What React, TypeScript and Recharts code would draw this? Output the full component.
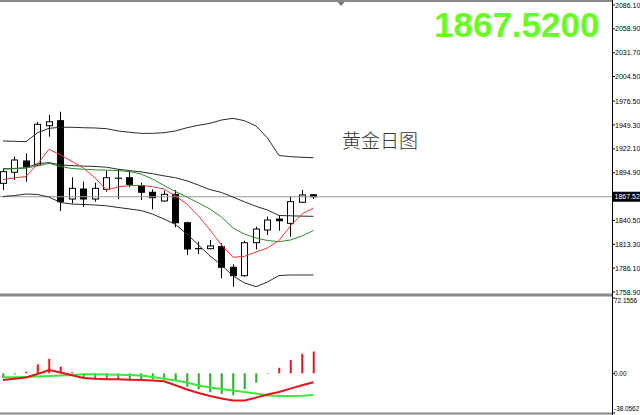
import { ComposedChart, Bar, Line, XAxis, YAxis, ReferenceLine, Cell } from "recharts";

// daily gold candles
const opens = [1882.8, 1895.4, 1908.3, 1903.7, 1948.5, 1954.2, 1864.9, 1876.3, 1864.9, 1876.0, 1888.0, 1889.2, 1880.1, 1872.6, 1862.7, 1870.3, 1837.9, 1808.3, 1808.3, 1810.6, 1787.1, 1777.5, 1815.1, 1829.6, 1842.1, 1837.2, 1861.2, 1869.8];
const highs = [1900.3, 1913.2, 1917.0, 1952.7, 1960.7, 1964.5, 1889.7, 1884.7, 1883.5, 1897.2, 1899.1, 1897.2, 1883.5, 1876.0, 1874.4, 1875.2, 1839.1, 1816.3, 1818.2, 1814.4, 1790.5, 1817.4, 1833.4, 1844.8, 1846.7, 1868.4, 1875.2, 1870.5];
const lows = [1875.2, 1886.6, 1884.7, 1902.5, 1936.0, 1851.3, 1860.0, 1856.2, 1861.9, 1873.3, 1864.6, 1878.3, 1863.8, 1853.2, 1861.9, 1832.7, 1801.1, 1802.2, 1807.6, 1774.5, 1765.0, 1776.5, 1807.6, 1823.9, 1828.8, 1822.0, 1860.5, 1864.9];
const closes = [1896.1, 1909.4, 1901.8, 1950.1, 1953.0, 1861.9, 1877.1, 1864.9, 1877.1, 1889.2, 1888.6, 1881.7, 1872.6, 1866.4, 1870.3, 1837.9, 1807.9, 1808.0, 1811.4, 1787.1, 1777.5, 1815.1, 1830.7, 1841.0, 1840.2, 1861.9, 1869.5, 1867.52];

const ma5 = [1887.1, 1888.9, 1890.6, 1904.8, 1921.6, 1915.1, 1907.7, 1900.3, 1888.9, 1875.2, 1878.6, 1880.3, 1880.3, 1879.0, 1876.3, 1868.4, 1859.2, 1845.6, 1829.6, 1812.5, 1798.5, 1799.6, 1804.5, 1809.1, 1817.6, 1834.2, 1847.8, 1854.7];
const ma10 = [1899.1, 1899.5, 1900.3, 1902.6, 1905.6, 1902.0, 1899.7, 1898.9, 1898.2, 1897.8, 1897.3, 1896.3, 1893.4, 1887.7, 1880.3, 1873.5, 1867.2, 1860.4, 1853.5, 1844.4, 1831.9, 1825.0, 1820.5, 1817.6, 1816.3, 1818.2, 1822.8, 1829.0];

const bandUpper = [1931.1, 1930.7, 1930.3, 1940.5, 1945.5, 1946.7, 1946.7, 1946.2, 1945.9, 1945.1, 1942.5, 1941.0, 1939.8, 1939.8, 1940.5, 1942.5, 1946.2, 1949.0, 1951.2, 1955.0, 1956.9, 1954.2, 1948.2, 1934.5, 1914.5, 1913.2, 1912.5, 1912.0];
const bandMiddle = [1899.5, 1899.8, 1900.5, 1905.3, 1906.4, 1903.8, 1903.0, 1902.5, 1902.0, 1901.2, 1898.9, 1897.3, 1895.8, 1893.8, 1891.3, 1889.2, 1885.6, 1880.8, 1875.6, 1872.4, 1867.1, 1861.7, 1856.6, 1852.4, 1846.1, 1845.8, 1845.4, 1845.2];
const bandLower = [1867.8, 1868.9, 1870.6, 1870.1, 1867.2, 1860.9, 1859.2, 1858.7, 1858.1, 1857.2, 1855.3, 1853.6, 1851.8, 1847.8, 1842.1, 1835.9, 1825.0, 1812.5, 1800.0, 1789.7, 1777.2, 1769.2, 1765.0, 1770.3, 1777.7, 1778.3, 1778.3, 1778.3];

const macdDif = [-6.4, -5.3, -4.0, -0.7, 3.2, 0.7, -1.9, -4.5, -5.3, -5.7, -5.8, -6.1, -6.4, -7.0, -7.6, -11.5, -15.5, -18.9, -21.7, -24.2, -26.1, -26.1, -23.3, -20.4, -18.0, -14.7, -11.4, -8.6];
const macdDea = [-3.8, -3.8, -3.5, -3.1, -2.6, -2.1, -1.6, -1.0, -1.0, -1.1, -1.3, -1.6, -2.1, -3.5, -5.2, -6.9, -8.8, -11.7, -13.6, -15.0, -16.5, -18.0, -19.4, -21.3, -21.8, -21.8, -21.6, -20.8];
const macdHist = [-4.8, -1.0, 1.4, 8.6, 13.8, 6.3, 1.0, -5.3, -5.3, -5.7, -5.7, -5.7, -5.7, -5.7, -4.8, -7.2, -12.9, -15.3, -18.2, -19.6, -21.1, -15.3, -8.9, -0.6, 5.3, 12.7, 18.7, 20.9];

const priceTicks = [2086.1, 2058.9, 2031.7, 2004.5, 1976.5, 1949.3, 1922.1, 1894.9, 1840.5, 1813.3, 1786.1, 1758.9];
const macdTicks = [72.1556, 0, -38.0562];
const lastPrice = 1867.52;
const bigPrice = "1867.5200";
const title = "黄金日图";

const rows = opens.map((o, i) => ({
  i,
  open: o,
  high: highs[i],
  low: lows[i],
  close: closes[i],
  ma5: ma5[i],
  ma10: ma10[i],
  upper: bandUpper[i],
  middle: bandMiddle[i],
  lower: bandLower[i],
  dif: macdDif[i],
  dea: macdDea[i],
  hist: macdHist[i],
}));

const axisFont = "'Liberation Sans', Arial, sans-serif";
const xDomain = [-0.261, 52.957];

function Candle(props: any) {
  const { x, y, width, height, payload } = props;
  const { open, close, high, low } = payload;
  const top0 = Math.min(y, y + height);
  const h = Math.abs(height);
  const k = h / (high - low);
  const cx = Math.round(x + width / 2) + 0.5;
  const bTop = top0 + (high - Math.max(open, close)) * k;
  const bBot = top0 + (high - Math.min(open, close)) * k;
  const up = close >= open;
  return (
    <g>
      <line x1={cx} x2={cx} y1={top0} y2={top0 + h} stroke="#000" strokeWidth={1} />
      {bBot - bTop < 1 ? (
        <line x1={cx - 3.5} x2={cx + 3.5} y1={bTop} y2={bTop} stroke="#000" strokeWidth={1.2} />
      ) : (
        <rect x={cx - 3} y={bTop} width={6} height={bBot - bTop} fill={up ? "#fff" : "#000"} stroke="#000" strokeWidth={1} />
      )}
    </g>
  );
}

function PriceTick(props: any) {
  const { x, y, payload } = props;
  return (
    <text x={x} y={y} dy={2.5} fontSize={7} fontFamily={axisFont} fill="#000">
      {Number(payload.value).toFixed(2)}
    </text>
  );
}

function MacdTick(props: any) {
  const { x, y, payload } = props;
  const v = payload.value;
  const dy = v > 0 ? 4.5 : v < 0 ? -2.2 : 2.5;
  return (
    <text x={x - 1} y={y} dy={dy} fontSize={6.4} fontFamily={axisFont} fill="#000">
      {v === 0 ? "0.00" : String(v)}
    </text>
  );
}

function PriceTag(props: any) {
  const vb = props.viewBox || {};
  const x = vb.x + vb.width + 1;
  const y = vb.y;
  return (
    <g>
      <rect x={x} y={y - 5} width={28} height={10} fill="#000" />
      <text x={x + 1.5} y={y + 2.5} fontSize={7} fontFamily={axisFont} fill="#fff">
        {lastPrice.toFixed(2)}
      </text>
    </g>
  );
}

export default function App() {
  return (
    <div style={{ position: "absolute", left: 0, top: 0, width: 640, height: 415, background: "#fff", overflow: "hidden" }}>
      <div style={{ position: "absolute", left: 0, top: 0 }}>
        <ComposedChart width={640} height={295} data={rows} margin={{ top: 2, right: 0, bottom: 2, left: 0 }}>
          <XAxis type="number" dataKey="i" domain={xDomain} hide allowDataOverflow />
          <YAxis
            orientation="right"
            width={28}
            domain={[1757.78, 2089.52]}
            allowDataOverflow
            ticks={priceTicks}
            interval={0}
            axisLine={false}
            tickLine={{ stroke: "#000" }}
            tickSize={3}
            tickMargin={0}
            tick={<PriceTick />}
          />
          <ReferenceLine y={lastPrice} stroke="#9a9a9a" strokeWidth={1} label={<PriceTag />} />
          <Bar dataKey={(d: any) => [d.low, d.high]} barSize={7} shape={<Candle />} isAnimationActive={false} />
          <Line dataKey="upper" type="linear" stroke="#2a2a2a" strokeWidth={1} dot={false} isAnimationActive={false} />
          <Line dataKey="middle" type="linear" stroke="#2a2a2a" strokeWidth={1} dot={false} isAnimationActive={false} />
          <Line dataKey="lower" type="linear" stroke="#2a2a2a" strokeWidth={1} dot={false} isAnimationActive={false} />
          <Line dataKey="ma10" type="linear" stroke="#2e8b2e" strokeWidth={1} dot={false} isAnimationActive={false} />
          <Line dataKey="ma5" type="linear" stroke="#e8383a" strokeWidth={1} dot={false} isAnimationActive={false} />
        </ComposedChart>
      </div>
      <div style={{ position: "absolute", left: 0, top: 296 }}>
        <ComposedChart width={640} height={119} data={rows} margin={{ top: 2, right: 0, bottom: 2, left: 0 }}>
          <XAxis type="number" dataKey="i" domain={xDomain} hide allowDataOverflow />
          <YAxis
            orientation="right"
            width={28}
            domain={[-38.0562, 72.1556]}
            allowDataOverflow
            ticks={macdTicks}
            interval={0}
            axisLine={false}
            tickLine={{ stroke: "#000" }}
            tickSize={3}
            tickMargin={0}
            tick={<MacdTick />}
          />
          <Bar dataKey="hist" barSize={2} isAnimationActive={false}>
            {rows.map((r) => (
              <Cell key={r.i} fill={r.hist >= 0 ? "#e8141c" : "#2fa82f"} />
            ))}
          </Bar>
          <Line dataKey="dea" type="linear" stroke="#3ce83c" strokeWidth={2} dot={false} isAnimationActive={false} />
          <Line dataKey="dif" type="linear" stroke="#e8141c" strokeWidth={2} dot={false} isAnimationActive={false} />
        </ComposedChart>
      </div>
      <svg width={640} height={415} style={{ position: "absolute", left: 0, top: 0, pointerEvents: "none" }}>
        <rect x={0} y={0} width={612} height={2} fill="#8a8a8a" />
        <rect x={0} y={293.5} width={612} height={3} fill="#8a8a8a" />
        <rect x={0} y={412.5} width={612} height={2} fill="#8a8a8a" />
        <line x1={612.5} x2={612.5} y1={0} y2={415} stroke="#000" strokeWidth={1} />
        <path d="M337.5,2 L344.5,2 L341,6 Z" fill="#777" />
        <text x={434} y={37} fontSize={35} fontWeight="bold" fontFamily={axisFont} fill="#66ff22">
          {bigPrice}
        </text>
        <text x={342} y={147.5} fontSize={19} fontFamily="'Noto Sans CJK SC', sans-serif" fontWeight={300} fill="#333">
          {title}
        </text>
      </svg>
    </div>
  );
}
